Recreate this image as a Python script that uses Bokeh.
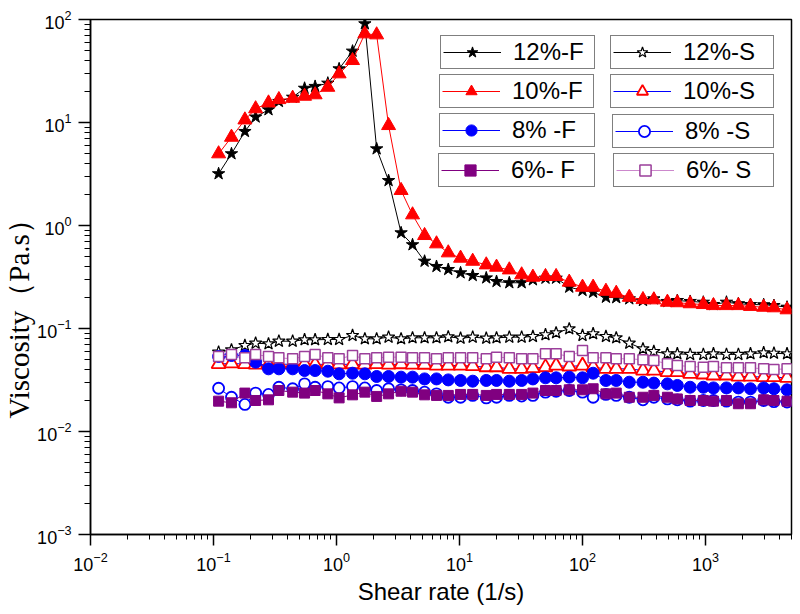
import numpy as np
from bokeh.plotting import figure
from bokeh.models import Legend, LegendItem, Title, Range1d, LogTicker, LogTickFormatter
from bokeh.embed import file_html
from bokeh.resources import INLINE

# ---- data ----
shear_rate = [0.11, 0.14, 0.18, 0.22, 0.28, 0.34, 0.44, 0.55, 0.67, 0.85,
              1.05, 1.35, 1.70, 2.12, 2.65, 3.35, 4.15, 5.2, 6.5, 8.1,
              10.2, 12.8, 16.5, 20, 25.4, 32, 39.5, 50, 61, 78,
              100, 122, 155, 188, 240, 310, 380, 490, 590, 750,
              960, 1160, 1480, 1850, 2320, 2970, 3600, 4600]

visc_12F = [3.18, 4.97, 8.18, 11.3, 13.3, 16.0, 17.6, 21.5, 22.4, 24.1,
            33.2, 49.3, 90.8, 5.55, 2.73, 0.849, 0.65, 0.45, 0.40, 0.374,
            0.347, 0.327, 0.31, 0.286, 0.278, 0.278, 0.297, 0.308, 0.308, 0.252,
            0.234, 0.225, 0.201, 0.199, 0.194, 0.187, 0.194, 0.183, 0.187, 0.183,
            0.180, 0.171, 0.180, 0.174, 0.171, 0.170, 0.167, 0.161]

visc_10F = [4.97, 7.2, 10.6, 13.6, 15.5, 16.7, 17.2, 18.0, 18.6, 22.0,
            29.7, 40.0, 72.6, 71.0, 9.35, 2.19, 1.27, 0.80, 0.664, 0.543,
            0.482, 0.45, 0.415, 0.394, 0.371, 0.332, 0.315, 0.32, 0.32, 0.282,
            0.252, 0.252, 0.230, 0.220, 0.201, 0.191, 0.190, 0.180, 0.178, 0.174,
            0.171, 0.167, 0.167, 0.167, 0.164, 0.161, 0.159, 0.152]

visc_12S = [0.0589, 0.0621, 0.0684, 0.0720, 0.0710, 0.0753, 0.0753, 0.0777, 0.0777, 0.0782,
            0.0782, 0.0855, 0.0794, 0.0794, 0.0824, 0.0794, 0.0812, 0.0812, 0.0812, 0.0830,
            0.0805, 0.0824, 0.0805, 0.0812, 0.0824, 0.0824, 0.0836, 0.0869, 0.0908, 0.0993,
            0.0855, 0.0889, 0.0836, 0.0812, 0.0720, 0.0635, 0.0598, 0.0568, 0.0568, 0.0560,
            0.0560, 0.0568, 0.0560, 0.0560, 0.0568, 0.0581, 0.0575, 0.0568]

visc_10S = [0.0452, 0.0458, 0.0451, 0.0447, 0.0446, 0.0453, 0.0447, 0.0451, 0.0446, 0.0452,
            0.0448, 0.0450, 0.0446, 0.0452, 0.0447, 0.0450, 0.0447, 0.0445, 0.0437, 0.0437,
            0.0437, 0.0431, 0.0421, 0.0421, 0.0406, 0.0406, 0.0412, 0.0421, 0.0437, 0.0428,
            0.0437, 0.0421, 0.0406, 0.0406, 0.0406, 0.0391, 0.0391, 0.0377, 0.0377, 0.0363,
            0.0358, 0.0350, 0.0350, 0.0342, 0.0342, 0.0337, 0.0337, 0.0332]

visc_8F = [0.0535, 0.0547, 0.0547, 0.0471, 0.0406, 0.0406, 0.0406, 0.0391, 0.0391, 0.0385,
           0.0363, 0.0368, 0.0363, 0.0342, 0.0342, 0.0337, 0.0337, 0.0324, 0.0324, 0.0317,
           0.0313, 0.0308, 0.0313, 0.0313, 0.0308, 0.0313, 0.0324, 0.0332, 0.0332, 0.0337,
           0.0332, 0.0368, 0.0313, 0.0313, 0.0301, 0.0301, 0.0295, 0.0290, 0.0280, 0.0269,
           0.0269, 0.0265, 0.0265, 0.0265, 0.0260, 0.0265, 0.0260, 0.0254]

visc_8S = [0.0263, 0.0215, 0.0183, 0.0236, 0.0229, 0.0269, 0.0260, 0.0290, 0.0269, 0.0273,
           0.0265, 0.0273, 0.0265, 0.0250, 0.0260, 0.0254, 0.0250, 0.0241, 0.0232, 0.0215,
           0.0215, 0.0224, 0.0212, 0.0215, 0.0224, 0.0221, 0.0224, 0.0241, 0.0246, 0.0250,
           0.0241, 0.0215, 0.0229, 0.0224, 0.0215, 0.0203, 0.0215, 0.0207, 0.0203, 0.0197,
           0.0200, 0.0200, 0.0197, 0.0193, 0.0193, 0.0200, 0.0195, 0.0193]

visc_6F = [0.0197, 0.0190, 0.0236, 0.0200, 0.0203, 0.0250, 0.0241, 0.0236, 0.0250, 0.0232,
           0.0212, 0.0227, 0.0241, 0.0219, 0.0232, 0.0246, 0.0241, 0.0227, 0.0224, 0.0224,
           0.0229, 0.0229, 0.0224, 0.0229, 0.0229, 0.0229, 0.0236, 0.0250, 0.0250, 0.0254,
           0.0254, 0.0260, 0.0232, 0.0236, 0.0215, 0.0215, 0.0224, 0.0215, 0.0207, 0.0200,
           0.0200, 0.0197, 0.0200, 0.0186, 0.0186, 0.0203, 0.0200, 0.0197]

visc_6S = [0.0535, 0.0559, 0.0519, 0.0559, 0.0535, 0.0519, 0.0508, 0.0535, 0.0559, 0.0519,
           0.0508, 0.0547, 0.0508, 0.0519, 0.0527, 0.0527, 0.0519, 0.0519, 0.0508, 0.0519,
           0.0519, 0.0519, 0.0508, 0.0527, 0.0519, 0.0508, 0.0508, 0.0568, 0.0568, 0.0535,
           0.0611, 0.0519, 0.0519, 0.0508, 0.0508, 0.0497, 0.0489, 0.0454, 0.0437, 0.0428,
           0.0421, 0.0428, 0.0415, 0.0415, 0.0415, 0.0406, 0.0400, 0.0406]

labels = ["12%-F", "12%-S", "10%-F", "10%-S", "8% -F", "8% -S", "6%- F", "6%- S"]
x_label = "Shear rate (1/s)"
y_label = "Viscosity\uff08Pa.s\uff09"

# ---- figure ----
p = figure(width=800, height=614, x_axis_type="log", y_axis_type="log",
           x_range=Range1d(0.01, 5000), y_range=Range1d(1e-3, 1e2),
           output_backend="svg", toolbar_location=None,
           min_border_left=89, min_border_right=9, min_border_top=19, min_border_bottom=80,
           background_fill_color="white", border_fill_color="white")
p.xgrid.visible = False
p.ygrid.visible = False
p.outline_line_color = "black"
p.outline_line_width = 1.5
p.outline_line_alpha = 1.0

for ax in (p.xaxis, p.yaxis):
    ax.ticker = LogTicker(desired_num_ticks=6, num_minor_ticks=10)
    ax.formatter = LogTickFormatter()
    ax.axis_line_width = 1.5
    ax.axis_line_color = "black"
    ax.major_tick_line_width = 1.5
    ax.major_tick_line_color = "black"
    ax.minor_tick_line_color = "black"
    ax.minor_tick_line_width = 1
    ax.major_tick_in = 0
    ax.minor_tick_in = 0
    ax.major_label_text_font = "Liberation Sans"
    ax.major_label_text_font_size = "18px"
    ax.major_label_text_color = "black"

p.xaxis.major_tick_out = 11
p.xaxis.minor_tick_out = 5
p.xaxis.major_label_standoff = 6
p.yaxis.major_tick_out = 12
p.yaxis.minor_tick_out = 6
p.yaxis.major_label_standoff = 7

p.xaxis.axis_label = x_label
p.xaxis.axis_label_text_font = "Liberation Sans"
p.xaxis.axis_label_text_font_size = "24px"
p.xaxis.axis_label_text_font_style = "normal"
p.xaxis.axis_label_text_color = "black"
p.xaxis.axis_label_standoff = 4

ytitle = Title(text=y_label, align="left", offset=116, standoff=0,
               text_font="Liberation Serif", text_font_size="29px",
               text_font_style="normal", text_color="black")
p.add_layout(ytitle, "left")

# ---- series ----
def series(yvals, line_color, marker, size, fill, edge, lw=1.0):
    ln = p.line(shear_rate, yvals, line_color=line_color, line_width=1)
    sc = p.scatter(shear_rate, yvals, marker=marker, size=size,
                   fill_color=fill, line_color=edge, line_width=lw)
    return [ln, sc]

r12F = series(visc_12F, "black", "star", 13, "black", "black")
r12S = series(visc_12S, "black", "star", 13, "white", "black", 1.2)
r10F = series(visc_10F, "red", "triangle", 14, "red", "red")
r10S = series(visc_10S, "blue", "triangle", 14, "white", "red", 1.8)
r8F = series(visc_8F, "blue", "circle", 12, "blue", "blue")
r8S = series(visc_8S, "blue", "circle", 11, "white", "blue", 1.8)
r6F = series(visc_6F, "#800080", "square", 10, "#800080", "#800080")
r6S = series(visc_6S, "#CC88CC", "square", 10, "white", "#9B3F9B", 1.5)

renderer_sets = [r12F, r12S, r10F, r10S, r8F, r8S, r6F, r6S]
# legend box positions: (left, bottom) in frame pixels and min label width
legend_pos = [(350, 465, 79), (520, 465, 88),
              (349, 426, 79), (520, 426, 88),
              (349, 387, 80), (522, 386, 86),
              (348, 347, 81), (523, 347, 85)]

for lab, rs, (lx, ly, lw) in zip(labels, renderer_sets, legend_pos):
    leg = Legend(items=[LegendItem(label=lab, renderers=rs)], location=(lx, ly),
                 orientation="vertical", padding=2, spacing=0, margin=0,
                 glyph_width=58, glyph_height=28, label_standoff=12,
                 label_width=lw, label_height=28,
                 label_text_font="Liberation Sans", label_text_font_size="24px",
                 label_text_color="black", label_text_baseline="middle",
                 border_line_color="black", border_line_width=1,
                 background_fill_color="white", background_fill_alpha=1.0,
                 click_policy="none")
    p.add_layout(leg)

open("out.html", "w").write(file_html(p, INLINE))
